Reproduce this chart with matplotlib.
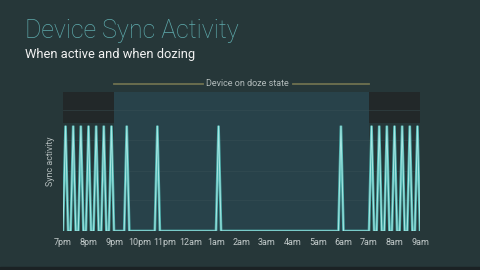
import matplotlib
matplotlib.use("Agg")
import matplotlib.pyplot as plt
from matplotlib.patches import Rectangle

# hours after 7pm
hour_labels = ["7pm", "8pm", "9pm", "10pm", "11pm", "12am", "1am", "2am",
               "3am", "4am", "5am", "6am", "7am", "8am", "9am"]
evening_syncs = [0.1, 0.4, 0.7, 1.0, 1.3, 1.6, 1.9]
doze_syncs = [2.5, 3.7, 6.1, 10.9]
morning_syncs = [12.1, 12.4, 12.7, 13.0, 13.3, 13.6, 13.9]
doze_start, doze_end = 2, 12
peak_level = 1.0

BG = "#263739"
TICK = "#c3cbcb"

plt.rcParams["font.family"] = ["Roboto", "DejaVu Sans"]

fig = plt.figure(figsize=(4.8, 2.7), dpi=100)
fig.patch.set_facecolor(BG)
fig.patches.append(Rectangle((0, 0), 1, 0.012, transform=fig.transFigure,
                             color="#1b2224", zorder=0))

ax = fig.add_axes([63 / 480, 39 / 270, 357 / 480, 139 / 270])
ax.set_facecolor(BG)
ax.set_xlim(0, 14)
ax.set_ylim(0, 1.32)
for s in ax.spines.values():
    s.set_visible(False)

# shaded states
ax.axvspan(doze_start, doze_end, color="#28424a", zorder=0, lw=0)
ax.axvspan(0, doze_start, ymin=1.03 / 1.32, ymax=1, color="#222829", zorder=0, lw=0)
ax.axvspan(doze_end, 14, ymin=1.03 / 1.32, ymax=1, color="#222829", zorder=0, lw=0)

for gy in [0.29, 0.57, 0.86, 1.15]:
    ax.axhline(gy, color="#3a5256", lw=0.6, alpha=0.5, zorder=1)

# sync spikes
w = 0.1
xs, ys = [0], [0]
for t in sorted(evening_syncs + doze_syncs + morning_syncs):
    xs += [t - w, t, t + w]
    ys += [0, peak_level, 0]
xs.append(14)
ys.append(0)
ax.plot(xs, ys, color="#4fb3b0", lw=1.9, zorder=3, solid_joinstyle="miter")
ax.plot(xs, ys, color="#a8e8e4", lw=0.7, zorder=4, solid_joinstyle="miter")

ax.set_xticks(range(len(hour_labels)))
ax.set_xticklabels(hour_labels, color=TICK, fontsize=6.5)
ax.tick_params(axis="x", length=0, pad=5)
ax.set_yticks([])
ax.set_ylabel("Sync activity", color="#b3bcbc", fontsize=6.5, labelpad=6)

# doze state bracket
ax.plot([doze_start, 5.5], [1.40, 1.40], color="#6f7150", lw=1.3, clip_on=False)
ax.plot([9.0, doze_end], [1.40, 1.40], color="#6f7150", lw=1.3, clip_on=False)
ax.text(7.25, 1.40, "Device on doze state", color="#b3bcbc", fontsize=6.5,
        ha="center", va="center", clip_on=False)

fig.text(25 / 480, 1 - 38 / 270, "Device Sync Activity", color="#5eaaac",
         fontsize=18, fontweight="light", ha="left", va="baseline")
fig.text(25 / 480, 1 - 58 / 270, "When active and when dozing", color="#f2f2f2",
         fontsize=9.3, ha="left", va="baseline")

fig.savefig("out.png", dpi=100, facecolor=BG)
